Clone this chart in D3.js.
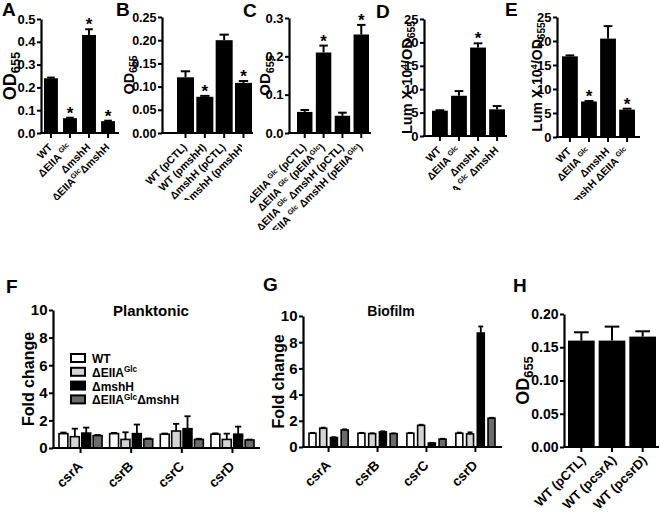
<!DOCTYPE html>
<html>
<head>
<meta charset="utf-8">
<script src="https://cdn.jsdelivr.net/npm/d3@7"></script>
<style>
  body { margin: 0; background: #fff; }
  svg { display: block; }
</style>
</head>
<body>
<script>
// ---- data ----
// A
const aLabels = ["WT", "ΔEIIA ^Glc^", "ΔmshH", "ΔEIIA^Glc^ΔmshH"];
const aMeans = [0.24, 0.065, 0.43, 0.052];
const aErrs = [0.003, 0.002, 0.025, 0.002];
const aStars = [0, 1, 1, 1];
// B
const bLabels = ["WT (pCTL)", "WT (pmshH)", "ΔmshH (pCTL)", "ΔmshH (pmshH)"];
const bMeans = [0.12, 0.078, 0.2, 0.108];
const bErrs = [0.013, 0.002, 0.012, 0.004];
const bStars = [0, 1, 0, 1];
// C
const cLabels = ["ΔEIIA ^Glc^ (pCTL)", "ΔEIIA ^Glc^ (pEIIA^Glc^)", "ΔEIIA ^Glc^ ΔmshH (pCTL)", "ΔEIIA ^Glc^ ΔmshH (pEIIA^Glc^)"];
const cMeans = [0.055, 0.21, 0.045, 0.257];
const cErrs = [0.005, 0.018, 0.008, 0.025];
const cStars = [0, 1, 0, 1];
// D
const dLabels = ["WT", "ΔEIIA ^Glc^", "ΔmshH", "ΔEIIA ^Glc^ ΔmshH"];
const dMeans = [5.4, 8.6, 18.9, 5.7];
const dErrs = [0.1, 1.0, 0.9, 0.7];
const dStars = [0, 0, 1, 0];
// E
const eLabels = ["WT", "ΔEIIA ^Glc^", "ΔmshH", "ΔmshH ΔEIIA ^Glc^"];
const eMeans = [16.8, 7.4, 20.5, 5.7];
const eErrs = [0.2, 0.1, 2.6, 0.2];
const eStars = [0, 1, 0, 1];
// F, G
const genes = ["csrA", "csrB", "csrC", "csrD"];
const strains = ["WT", "ΔEIIA^Glc^", "ΔmshH", "ΔEIIA^Glc^ΔmshH"];
const plankWT = [1.04, 1.04, 1.0, 1.0];
const plankWTErr = [0.08, 0.05, 0.05, 0.06];
const plankEIIA = [0.82, 0.62, 1.23, 0.62];
const plankEIIAErr = [0.58, 0.52, 0.52, 0.42];
const plankMshH = [1.08, 1.04, 1.4, 1.0];
const plankMshHErr = [0.4, 0.66, 0.9, 0.55];
const plankDouble = [0.9, 0.65, 0.62, 0.58];
const plankDoubleErr = [0.04, 0.04, 0.05, 0.03];
const bioWT = [1.05, 1.05, 1.05, 1.05];
const bioWTErr = [0.03, 0.03, 0.03, 0.05];
const bioEIIA = [1.43, 1.02, 1.65, 1.0];
const bioEIIAErr = [0.05, 0.03, 0.05, 0.12];
const bioMshH = [0.72, 1.15, 0.3, 8.7];
const bioMshHErr = [0.03, 0.05, 0.02, 0.5];
const bioDouble = [1.3, 1.02, 0.6, 2.2];
const bioDoubleErr = [0.05, 0.02, 0.03, 0.03];
const strainColors = ["#ffffff", "#d4d4d4", "#000000", "#6b6b6b"];
// H
const hLabels = ["WT (pCTL)", "WT (pcsrA)", "WT (pcsrD)"];
const hMeans = [0.16, 0.16, 0.166];
const hErrs = [0.0125, 0.021, 0.008];
const hStars = [0, 0, 0];

// ---- drawing ----
const svg = d3.select("body").append("svg")
  .attr("width", 660).attr("height", 520)
  .style("font-family", "'Liberation Sans', Arial, sans-serif")
  .style("font-weight", "bold");
const defs = svg.append("defs");

// ^x^ = superscript, _x_ = subscript
function rich(sel, str, size) {
  const parts = str.split(/(\^[^^]*\^|_[^_]*_)/).filter(s => s.length);
  let shift = 0;
  parts.forEach(p => {
    let txt = p, fs = size, target = 0;
    if (p[0] === "^") { txt = p.slice(1, -1); fs = size * 0.68; target = -size * 0.36; }
    else if (p[0] === "_") { txt = p.slice(1, -1); fs = size * 0.72; target = size * 0.24; }
    sel.append("tspan").attr("dy", target - shift).attr("font-size", fs).text(txt);
    shift = target;
  });
}

function yAxis(g, y, o) {
  const ax = g.append("g")
    .attr("transform", `translate(${o.axisX},0)`)
    .call(d3.axisLeft(y).tickValues(o.ticks).tickFormat(d3.format(o.fmt))
      .tickSize(4).tickSizeOuter(0).tickPadding(1.5));
  ax.attr("font-family", null).attr("font-size", null);
  ax.select(".domain").attr("stroke-width", 2.2);
  ax.selectAll(".tick line").attr("stroke-width", 2);
  ax.selectAll(".tick text").attr("font-size", o.tickSize).attr("fill", "#000");
}

function titles(g, o) {
  g.append("text").attr("x", o.letterPos[0]).attr("y", o.letterPos[1])
    .attr("font-size", 19).text(o.letter);
  const t = g.append("text")
    .attr("transform", `translate(${o.titleX},${(o.y0 + o.y1) / 2}) rotate(-90)`)
    .attr("text-anchor", "middle");
  rich(t, o.title, o.titleSize);
}

function simplePanel(o) {
  const g = svg.append("g");
  const y = d3.scaleLinear().domain([0, o.max]).range([o.y0, o.y1]);
  const x = d3.scaleBand().domain(o.labels).range(o.barRange).paddingInner(o.pad);
  const bw = x.bandwidth();
  const rows = o.labels.map((l, i) => ({ label: l, mean: o.means[i], err: o.errs[i], star: o.stars[i] }));

  g.selectAll("rect.bar").data(rows).join("rect")
    .attr("class", "bar")
    .attr("x", d => x(d.label)).attr("width", bw)
    .attr("y", d => y(d.mean)).attr("height", d => o.y0 - y(d.mean))
    .attr("fill", "#000");

  const cap = bw * 0.55;
  g.selectAll("line.err").data(rows).join("line")
    .attr("class", "err")
    .attr("x1", d => x(d.label) + bw / 2).attr("x2", d => x(d.label) + bw / 2)
    .attr("y1", d => y(d.mean)).attr("y2", d => y(d.mean + d.err))
    .attr("stroke", "#000").attr("stroke-width", 2);
  g.selectAll("line.cap").data(rows).join("line")
    .attr("class", "cap")
    .attr("x1", d => x(d.label) + bw / 2 - cap / 2).attr("x2", d => x(d.label) + bw / 2 + cap / 2)
    .attr("y1", d => y(d.mean + d.err)).attr("y2", d => y(d.mean + d.err))
    .attr("stroke", "#000").attr("stroke-width", 2);
  g.selectAll("text.star").data(rows.filter(d => d.star)).join("text")
    .attr("class", "star")
    .attr("x", d => x(d.label) + bw / 2).attr("y", d => y(d.mean + d.err) + 1)
    .attr("text-anchor", "middle").attr("font-size", 17).text("*");

  yAxis(g, y, o);
  g.append("line").attr("x1", o.axisX - 1).attr("x2", o.axisEnd)
    .attr("y1", o.y0).attr("y2", o.y0).attr("stroke", "#000").attr("stroke-width", 2.2);
  g.selectAll("line.xt").data(rows).join("line")
    .attr("class", "xt")
    .attr("x1", d => x(d.label) + bw / 2).attr("x2", d => x(d.label) + bw / 2)
    .attr("y1", o.y0).attr("y2", o.y0 + 5)
    .attr("stroke", "#000").attr("stroke-width", 2);

  const cid = "clip" + o.letter;
  defs.append("clipPath").attr("id", cid).append("rect")
    .attr("x", o.clip[0]).attr("y", o.clip[1]).attr("width", o.clip[2]).attr("height", o.clip[3]);
  const lg = g.append("g").attr("clip-path", `url(#${cid})`);
  rows.forEach(d => {
    const t = lg.append("text")
      .attr("transform", `translate(${x(d.label) + bw / 2 + o.labOff[0]},${o.y0 + o.labOff[1]}) rotate(-45)`)
      .attr("text-anchor", "end");
    rich(t, d.label, o.labSize);
  });

  titles(g, o);
}

function groupPanel(o) {
  const g = svg.append("g");
  const y = d3.scaleLinear().domain([0, 10]).range([o.y0, o.y1]);
  const x0 = d3.scaleBand().domain(genes).range(o.barRange).paddingInner(o.pad);
  const x1 = d3.scaleBand().domain(strains).range([0, x0.bandwidth()]).paddingInner(o.subPad);
  const bw = x1.bandwidth();
  const rows = [];
  genes.forEach((gene, i) => strains.forEach((s, j) => {
    rows.push({ gene, strain: s, j, mean: o.series[j][i], err: o.errors[j][i] });
  }));
  const cx = d => x0(d.gene) + x1(d.strain) + bw / 2;

  const cap = bw * 0.7;
  g.selectAll("line.err").data(rows).join("line")
    .attr("class", "err")
    .attr("x1", cx).attr("x2", cx)
    .attr("y1", d => y(d.mean)).attr("y2", d => y(d.mean + d.err))
    .attr("stroke", "#000").attr("stroke-width", 1.8);
  g.selectAll("line.cap").data(rows).join("line")
    .attr("class", "cap")
    .attr("x1", d => cx(d) - cap / 2).attr("x2", d => cx(d) + cap / 2)
    .attr("y1", d => y(d.mean + d.err)).attr("y2", d => y(d.mean + d.err))
    .attr("stroke", "#000").attr("stroke-width", 1.8);
  g.selectAll("rect.bar").data(rows).join("rect")
    .attr("class", "bar")
    .attr("x", d => x0(d.gene) + x1(d.strain)).attr("width", bw)
    .attr("y", d => y(d.mean)).attr("height", d => o.y0 - y(d.mean))
    .attr("fill", d => strainColors[d.j]).attr("stroke", "#000").attr("stroke-width", 1.6);

  yAxis(g, y, o);
  g.append("line").attr("x1", o.axisX - 1).attr("x2", o.axisEnd)
    .attr("y1", o.y0).attr("y2", o.y0).attr("stroke", "#000").attr("stroke-width", 2.2);
  g.selectAll("line.xt").data(genes).join("line")
    .attr("class", "xt")
    .attr("x1", d => x0(d) + x0.bandwidth() / 2).attr("x2", d => x0(d) + x0.bandwidth() / 2)
    .attr("y1", o.y0).attr("y2", o.y0 + 5)
    .attr("stroke", "#000").attr("stroke-width", 2);
  g.selectAll("text.gene").data(genes).join("text")
    .attr("class", "gene")
    .attr("transform", d => `translate(${x0(d) + x0.bandwidth() / 2 + 3},${o.y0 + 19}) rotate(-45)`)
    .attr("text-anchor", "end").attr("font-size", 13.5).text(d => d);

  g.append("text").attr("x", o.headX).attr("y", o.headY)
    .attr("text-anchor", "middle").attr("font-size", o.headSize).text(o.head);

  titles(g, o);
  return g;
}

simplePanel({
  letter: "A", letterPos: [2, 16], title: "OD_655_", titleX: 16, titleSize: 18,
  labels: aLabels, means: aMeans, errs: aErrs, stars: aStars,
  max: 0.5, ticks: d3.range(0, 0.51, 0.1), fmt: ".1f", tickSize: 13,
  axisX: 41, axisEnd: 119, y0: 133, y1: 19, barRange: [44, 115], pad: 0.27,
  labOff: [2, 15], labSize: 10.5, clip: [0, 0, 120, 200]
});
simplePanel({
  letter: "B", letterPos: [116, 16], title: "OD_655_", titleX: 134, titleSize: 14.5,
  labels: bLabels, means: bMeans, errs: bErrs, stars: bStars,
  max: 0.25, ticks: d3.range(0, 0.251, 0.05), fmt: ".2f", tickSize: 12.5,
  axisX: 162, axisEnd: 253, y0: 133, y1: 17, barRange: [177, 252], pad: 0.12,
  labOff: [2, 15], labSize: 10.5, clip: [122, 0, 120, 200]
});
simplePanel({
  letter: "C", letterPos: [243, 17], title: "OD_655_", titleX: 270, titleSize: 15,
  labels: cLabels, means: cMeans, errs: cErrs, stars: cStars,
  max: 0.3, ticks: d3.range(0, 0.31, 0.1), fmt: ".1f", tickSize: 13,
  axisX: 289, axisEnd: 371, y0: 133, y1: 18, barRange: [297, 369], pad: 0.18,
  labOff: [2, 15], labSize: 10.5, clip: [250, 0, 125, 230]
});
simplePanel({
  letter: "D", letterPos: [376, 18], title: "Lum X 10^4^/OD_655_", titleX: 412, titleSize: 14.5,
  labels: dLabels, means: dMeans, errs: dErrs, stars: dStars,
  max: 25, ticks: d3.range(0, 26, 5), fmt: "d", tickSize: 13,
  axisX: 424, axisEnd: 507, y0: 136, y1: 19, barRange: [432, 505], pad: 0.17,
  labOff: [2, 15], labSize: 10.5, clip: [378, 0, 132, 190]
});
simplePanel({
  letter: "E", letterPos: [505, 16], title: "Lum X 10^4^/OD_655_", titleX: 542, titleSize: 14,
  labels: eLabels, means: eMeans, errs: eErrs, stars: eStars,
  max: 25, ticks: d3.range(0, 26, 5), fmt: "d", tickSize: 13,
  axisX: 557, axisEnd: 640, y0: 137, y1: 17, barRange: [562, 635], pad: 0.17,
  labOff: [2, 15], labSize: 10.5, clip: [515, 0, 145, 200]
});

const fG = groupPanel({
  letter: "F", letterPos: [6, 293], title: "Fold change", titleX: 34, titleSize: 16,
  series: [plankWT, plankEIIA, plankMshH, plankDouble],
  errors: [plankWTErr, plankEIIAErr, plankMshHErr, plankDoubleErr],
  ticks: d3.range(0, 11, 2), fmt: "d", tickSize: 15,
  axisX: 53, axisEnd: 260, y0: 448, y1: 310, barRange: [59, 254], pad: 0.15, subPad: 0.22,
  head: "Planktonic", headX: 151, headY: 316, headSize: 15
});
groupPanel({
  letter: "G", letterPos: [263, 291], title: "Fold change", titleX: 284, titleSize: 16,
  series: [bioWT, bioEIIA, bioMshH, bioDouble],
  errors: [bioWTErr, bioEIIAErr, bioMshHErr, bioDoubleErr],
  ticks: d3.range(0, 11, 2), fmt: "d", tickSize: 15,
  axisX: 303, axisEnd: 502, y0: 447, y1: 316, barRange: [309, 495], pad: 0.2, subPad: 0.35,
  head: "Biofilm", headX: 391, headY: 316, headSize: 14
});

// legend in F
const leg = fG.append("g").selectAll("g").data(strains).join("g")
  .attr("transform", (d, i) => `translate(71,${358 + i * 13.8})`);
leg.append("rect").attr("x", 0).attr("y", -4).attr("width", 14).attr("height", 8)
  .attr("fill", (d, i) => strainColors[i]).attr("stroke", "#000").attr("stroke-width", 2);
leg.each(function (d) {
  const t = d3.select(this).append("text").attr("x", 21).attr("y", 5);
  rich(t, d, 12);
});

simplePanel({
  letter: "H", letterPos: [513, 292], title: "OD_655_", titleX: 529, titleSize: 18,
  labels: hLabels, means: hMeans, errs: hErrs, stars: hStars,
  max: 0.2, ticks: d3.range(0, 0.201, 0.05), fmt: ".2f", tickSize: 14,
  axisX: 564, axisEnd: 659, y0: 447, y1: 314, barRange: [568, 656], pad: 0.13,
  labOff: [5, 14], labSize: 13, clip: [440, 240, 220, 280]
});
</script>
</body>
</html>
